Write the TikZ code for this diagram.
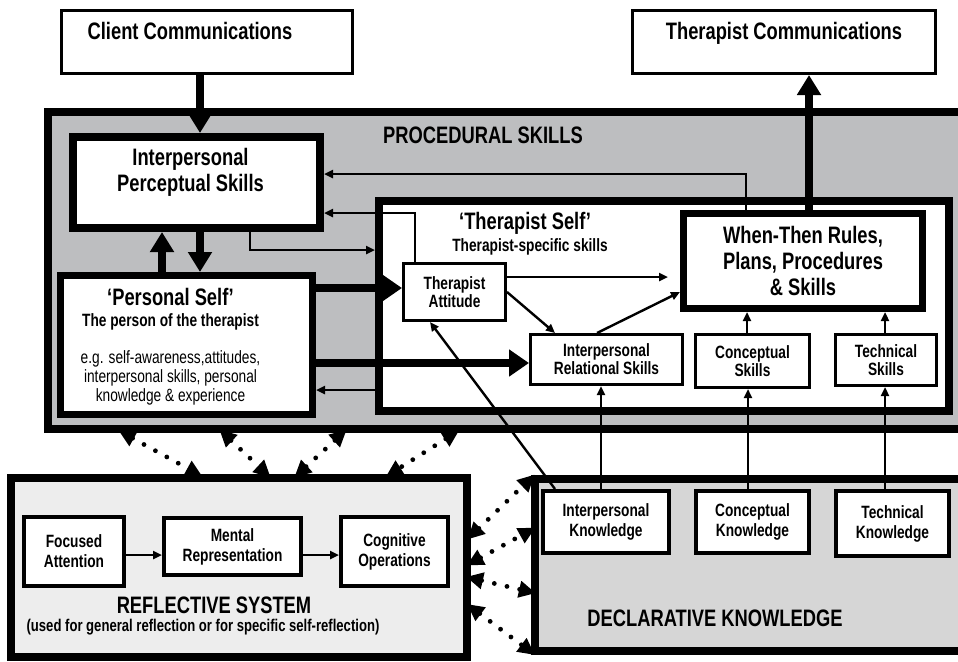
\documentclass[tikz,border=0pt]{standalone}
\usepackage{fontspec}
\setmainfont[FakeStretch=0.77]{Liberation Sans}
\usetikzlibrary{arrows.meta,positioning,backgrounds,calc}
\definecolor{procgray}{HTML}{BDBEC0}
\definecolor{reflgray}{HTML}{EDEDED}
\definecolor{declgray}{HTML}{D6D6D6}
\newcommand{\bigf}{\fontsize{11.9}{12.8}\selectfont\bfseries}
\newcommand{\smallbf}{\fontsize{8.9}{9}\selectfont\bfseries}
\newcommand{\smallrm}{\fontsize{8.9}{9.5}\selectfont}
\tikzstyle{panel}=[draw=black, line width=4pt, inner sep=0pt]
\tikzstyle{bigbox}=[draw=black, fill=white, line width=3.5pt, inner sep=0pt, align=center, font=\bigf]
\tikzstyle{combox}=[draw=black, fill=white, line width=1.5pt, inner sep=0pt]
\tikzstyle{sbox}=[draw=black, fill=white, line width=1.5pt, inner sep=0pt, align=center, font=\smallbf]
\tikzstyle{kbox}=[sbox, line width=2pt, font=\fontsize{8.9}{10}\selectfont\bfseries]
\tikzstyle{heading}=[inner sep=0pt, font=\bigf]
\tikzstyle{subhead}=[inner sep=0pt, font=\smallbf]
\tikzstyle{fatarr}=[line width=4pt, -{Triangle[length=10pt,width=11.5pt]}]
\tikzstyle{thinarr}=[line width=1.2pt, -{Triangle[length=4.5pt,width=4pt]}]
\tikzstyle{dotarr}=[line width=2.4pt, line cap=round, dash pattern=on 0pt off 6.5pt,
  {Triangle[length=8.5pt,width=8pt]}-{Triangle[length=8.5pt,width=8pt]}, shorten <=-2.5pt, shorten >=-2.5pt]
\begin{document}
\begin{tikzpicture}[x=0.5pt, y=-0.5pt]
      \useasboundingbox (0,0) rectangle (958,661);
      % big panels
      \node[panel, fill=procgray, minimum width=466pt, minimum height=158.5pt] (proc) at (514,270.5) {};
      \node[panel, fill=white, minimum width=285pt, minimum height=105pt] (tself) at (664,306) {};
      \node[panel, fill=reflgray, minimum width=228pt, minimum height=89.5pt] (refl) at (239,567.5) {};
      \node[panel, fill=declgray, minimum width=222.5pt, minimum height=86pt] (decl) at (757.5,565) {};
      \node[heading] (proc-title) at (483,135) {PROCEDURAL SKILLS};
      \node[heading] (tself-title) at (525,223) {‘Therapist Self’};
      \node[subhead] (tself-sub) at (530,247) {Therapist-specific skills};
      \node[heading] (refl-title) at (214,605) {REFLECTIVE SYSTEM};
      \node[subhead, font=\fontsize{8.5}{9}\selectfont\bfseries] (refl-sub) at (203,627) {(used for general reflection or for specific self-reflection)};
      \node[heading] (decl-title) at (715,618) {DECLARATIVE KNOWLEDGE};
      % communications
      \node[combox, minimum width=145.5pt, minimum height=31.5pt,
        label={[heading, xshift=-8.5pt, yshift=5.5pt]center:Client Communications}] (cc) at (207,42) {};
      \node[combox, minimum width=151.5pt, minimum height=31.5pt,
        label={[heading, yshift=4.5pt]center:Therapist Communications}] (tc) at (784,42) {};
      % procedural skills
      \node[bigbox, line width=4pt, minimum width=123.5pt, minimum height=45.5pt,
        label={[heading, align=center, xshift=-3pt, yshift=5pt]center:{Interpersonal\\Perceptual Skills}}] (ips) at (196.5,182.5) {};
      \node[bigbox, minimum width=126pt, minimum height=69.5pt,
        label={[inner sep=0pt, align=center, font=\smallrm, xshift=-8pt, yshift=-1pt]center:{{\bigf ‘Personal Self’}\\[1pt]
        {\smallbf The person of the therapist}\\[9pt]
        e.g. self-awareness,attitudes,\\interpersonal skills, personal\\knowledge \& experience}}] (ps) at (186.5,345) {};
      \node[sbox, minimum width=51pt, minimum height=28.5pt] (ta) at (454.5,292) {Therapist\\Attitude};
      \node[bigbox, minimum width=119.5pt, minimum height=47.5pt] (wt) at (803,261) {When-Then Rules,\\Plans, Procedures\\\& Skills};
      \node[sbox, minimum width=76pt, minimum height=25pt] (irs) at (606.5,359.5) {Interpersonal\\Relational Skills};
      \node[sbox, minimum width=57pt, minimum height=26.5pt] (cs) at (752.5,361) {Conceptual\\Skills};
      \node[sbox, minimum width=50.5pt, minimum height=25.5pt] (ts) at (886,360) {Technical\\Skills};
      % declarative knowledge
      \node[kbox, minimum width=63pt, minimum height=31pt] (ik) at (606,522) {Interpersonal\\Knowledge};
      \node[kbox, minimum width=56.5pt, minimum height=31pt] (ck) at (752.5,522) {Conceptual\\Knowledge};
      \node[kbox, minimum width=56.5pt, minimum height=32.5pt] (tk) at (892.5,523.5) {Technical\\Knowledge};
      % reflective system
      \node[kbox, minimum width=50pt, minimum height=34.5pt] (fa) at (74,551.5) {Focused\\Attention};
      \node[kbox, minimum width=68.5pt, minimum height=28.5pt] (mr) at (232.5,546.5) {Mental\\Representation};
      \node[kbox, minimum width=53.5pt, minimum height=34.5pt] (co) at (394.5,551.5) {Cognitive\\Operations};
      % 
      \draw[fatarr] (cc.south -| 200,0) -- (ips.north -| 200,0);
      \draw[fatarr] (ips.south -| 200,0) -- (ps.north -| 200,0);
      \draw[fatarr] (ps.north -| 162,0) -- (ips.south -| 162,0);
      \draw[fatarr] (wt.north -| 809,0) -- (tc.south -| 809,0);
      \draw[fatarr, -{Triangle[length=10pt,width=13pt]}] (ps.east |- 0,288) -- (ta.west |- 0,288);
      \draw[fatarr, -{Triangle[length=10pt,width=13pt]}] (ps.east |- 0,363) -- (irs.west |- 0,363);
      \draw[thinarr] (wt.north -| 746,0) |- (ips.east |- 0,174);
      \draw[thinarr] (ta.north -| 415,0) |- (ips.east |- 0,213);
      \draw[thinarr] (ips.south -| 250,0) |- (tself.west |- 0,250);
      \draw[thinarr] (tself.west |- 0,390) -- (ps.east |- 0,390);
      \draw[thinarr, shorten >=6pt] (ta.east |- 0,277) -- (wt.west |- 0,277);
      \draw[thinarr] (ta.east) -- (irs.north -| 555,0);
      \draw[thinarr] (irs.north -| 597,0) -- (wt.west |- 0,292);
      \draw[thinarr] (ik.north -| 555,0) -- (ta.south -| 430,0);
      \draw[thinarr] (ik.north -| 601,0) -- (irs.south -| 601,0);
      \draw[thinarr] (ck.north -| 748,0) -- (cs.south -| 748,0);
      \draw[thinarr] (tk.north -| 885,0) -- (ts.south -| 885,0);
      \draw[thinarr] (cs.north -| 747,0) -- (wt.south -| 747,0);
      \draw[thinarr] (ts.north -| 885,0) -- (wt.south -| 885,0);
      \draw[thinarr] (fa.east |- 0,555) -- (mr.west |- 0,555);
      \draw[thinarr] (mr.east |- 0,555) -- (co.west |- 0,555);
      % reflection links
      \begin{scope}[on background layer]
        \draw[dotarr] (proc.south -| 123,0) -- (refl.north -| 198,0);
        \draw[dotarr] (proc.south -| 223,0) -- (refl.north -| 267,0);
        \draw[dotarr] (proc.south -| 343,0) -- (refl.north -| 298,0);
        \draw[dotarr] (proc.south -| 455,0) -- (refl.north -| 390,0);
        \draw[dotarr] (refl.east |- 0,536) -- (decl.west |- 0,478);
        \draw[dotarr] (refl.east |- 0,563) -- (decl.west |- 0,530);
        \draw[dotarr] (refl.east |- 0,578) -- (decl.west |- 0,592);
        \draw[dotarr] (refl.east |- 0,607) -- (decl.west |- 0,652);
      \end{scope}
\end{tikzpicture}
\end{document}
